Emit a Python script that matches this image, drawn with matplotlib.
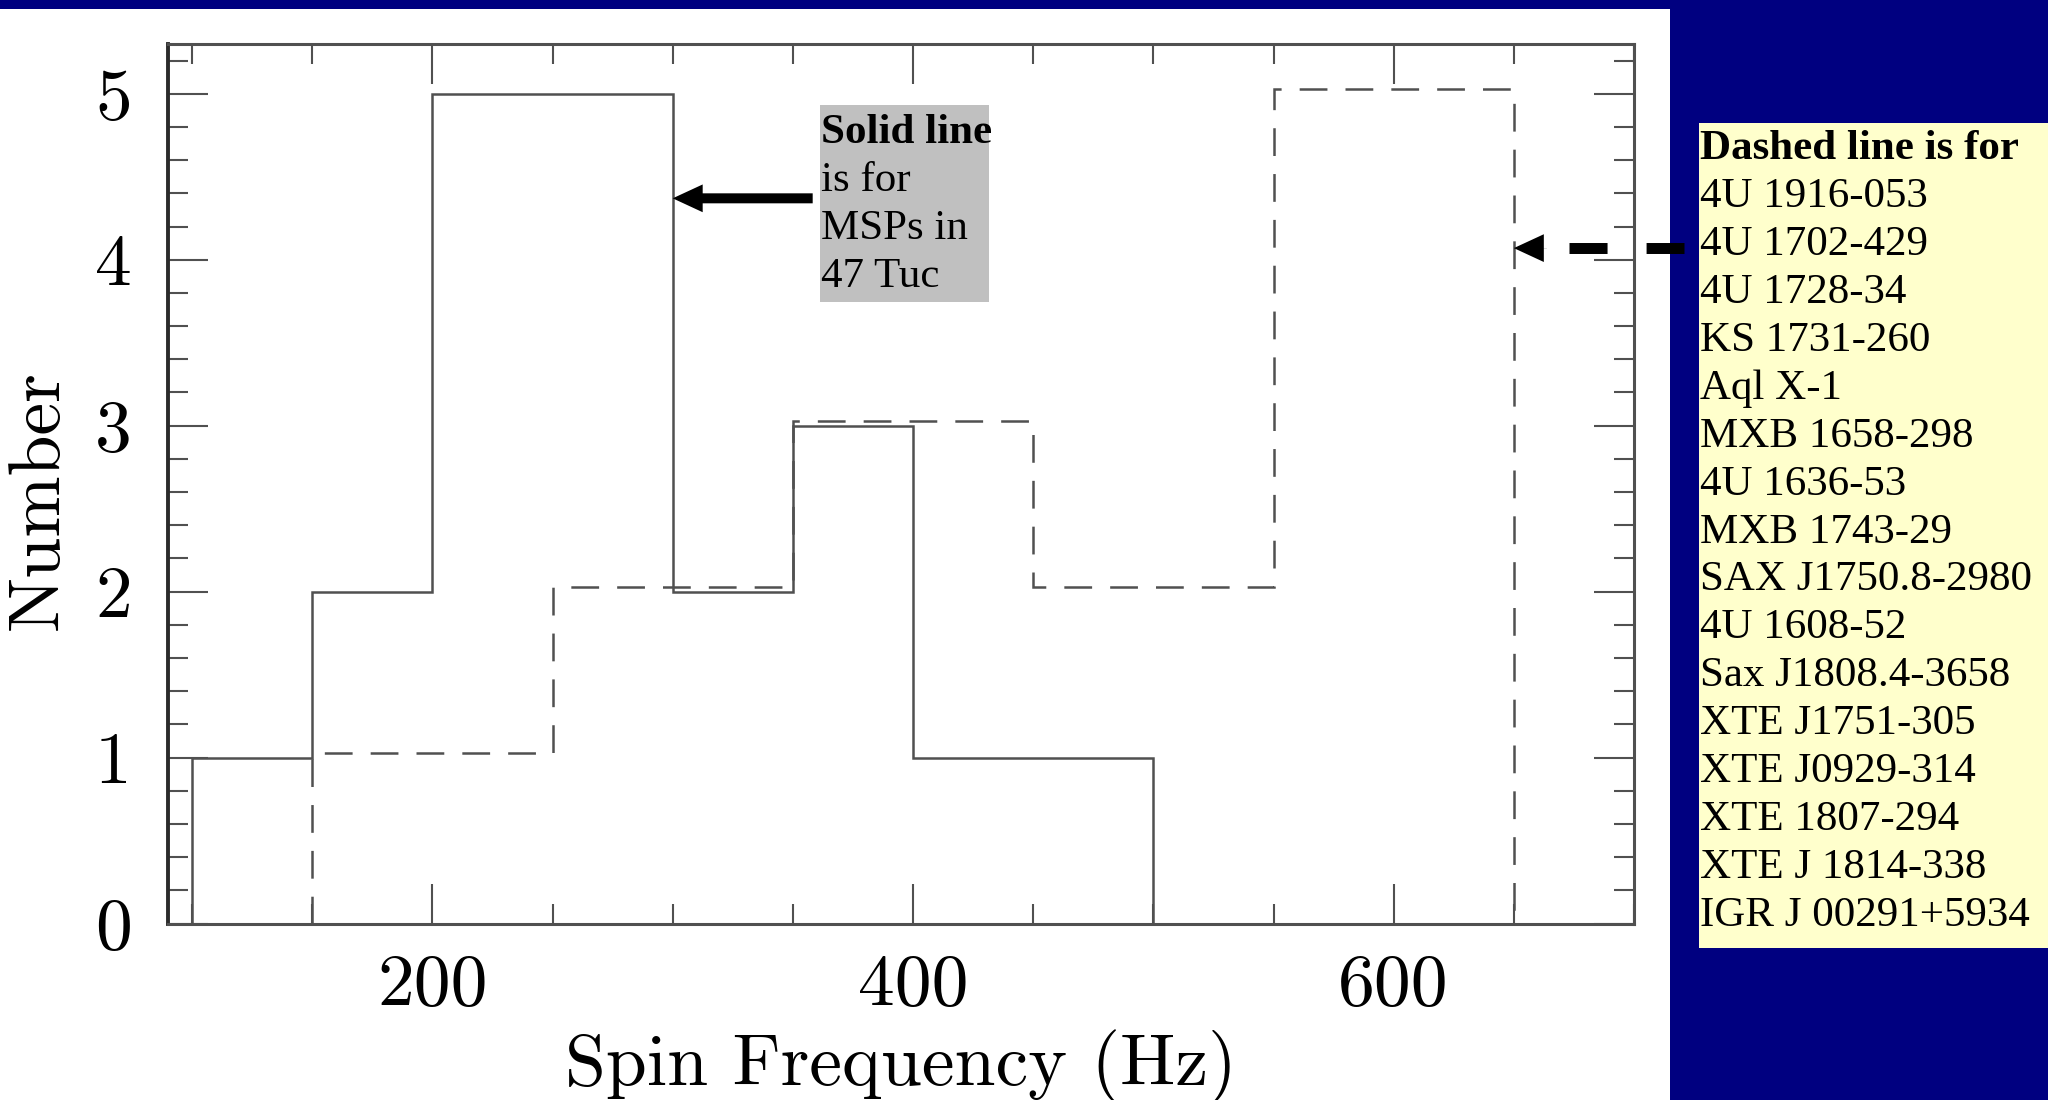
import numpy as np
import matplotlib.pyplot as plt
from matplotlib.patches import Rectangle
from matplotlib.lines import Line2D
from matplotlib.ticker import MultipleLocator

plt.rcParams['lines.scale_dashes'] = False

# Spin frequency histograms, 50 Hz bins
# solid: MSPs in 47 Tuc
msp_edges = [100, 150, 200, 250, 300, 350, 400, 450, 500]
msp_counts = [1, 2, 5, 5, 2, 3, 1, 1]
# dashed: burst / accreting sources
lmxb_edges = [150, 200, 250, 300, 350, 400, 450, 500, 550, 600, 650]
lmxb_counts = [1, 1, 2, 2, 3, 3, 2, 2, 5, 5]

x_ticks = [200, 400, 600]
x_ticklabels = ['200', '400', '600']
y_ticks = [0, 1, 2, 3, 4, 5]
y_ticklabels = ['0', '1', '2', '3', '4', '5']

solid_note = ['Solid line', 'is for', 'MSPs in', '47 Tuc']
dashed_header = 'Dashed line is for'
lmxb_names = ['4U 1916-053', '4U 1702-429', '4U 1728-34', 'KS 1731-260',
              'Aql X-1', 'MXB 1658-298', '4U 1636-53', 'MXB 1743-29',
              'SAX J1750.8-2980', '4U 1608-52', 'Sax J1808.4-3658',
              'XTE J1751-305', 'XTE J0929-314', 'XTE 1807-294',
              'XTE J 1814-338', 'IGR J 00291+5934']

W, H = 2048, 1100
navy = '#000080'
line_gray = '#505050'
serif = 'Liberation Serif'
axis_font = 53


def fx(x):
    return x / W


def fy(y):
    return 1 - y / H


fig = plt.figure(figsize=(W / 100, H / 100), dpi=100, facecolor=navy)

# white slide panel
fig.add_artist(Rectangle((0, 0), fx(1670), fy(9), transform=fig.transFigure,
                         facecolor='white', edgecolor='none', zorder=-10))

ax_l, ax_r, ax_t, ax_b = 168, 1634, 44, 923.5
ax = fig.add_axes([fx(ax_l), fy(ax_b), (ax_r - ax_l) / W, (ax_b - ax_t) / H])

ax.stairs(msp_counts, msp_edges, baseline=0, color=line_gray, lw=1.8)
dash_lift = 0.03  # dashed curve drawn slightly above so it stays visible
ax.stairs(np.array(lmxb_counts) + dash_lift, lmxb_edges, baseline=0,
          color=line_gray, lw=1.8, linestyle=(0, (20, 13)))

ax.set_xlim(90, 700)
ax.set_ylim(0, 5.3)
ax.set_xticks(x_ticks, labels=x_ticklabels)
ax.xaxis.set_minor_locator(MultipleLocator(50))
ax.set_yticks(y_ticks, labels=y_ticklabels)
ax.yaxis.set_minor_locator(MultipleLocator(0.2))
ax.tick_params(which='both', direction='in', top=True, right=True,
               color=line_gray, width=1.5, labelsize=axis_font,
               labelfontfamily='cmr10')
ax.tick_params(which='major', length=29)
ax.tick_params(which='minor', length=14.5)
ax.tick_params(axis='x', pad=22)
ax.tick_params(axis='y', pad=26)

for s in ax.spines.values():
    s.set_color(line_gray)
    s.set_linewidth(2.2)
ax.spines['left'].set_color('#2b2b2b')
ax.spines['left'].set_linewidth(2.8)

ax.set_xlabel('Spin Frequency (Hz)', fontfamily='cmr10', fontsize=axis_font,
              va='baseline')
ax.xaxis.set_label_coords(0.5, -(1085 - ax_b) / (ax_b - ax_t))
ax.set_ylabel('Number', fontfamily='cmr10', fontsize=axis_font, va='center')
ax.yaxis.set_label_coords((39 - ax_l) / (ax_r - ax_l), (ax_b - 500) / (ax_b - ax_t))

# solid arrow -> 47 Tuc note
ax.annotate('', xy=(300, 4.37), xytext=(140, 0), textcoords='offset pixels',
            arrowprops=dict(arrowstyle='simple,head_length=2.16,head_width=2.0,tail_width=0.72',
                            mutation_scale=10, fc='black', ec='none',
                            shrinkA=0, shrinkB=0))

# dashed arrow -> source list
ax.annotate('', xy=(650, 4.07), xytext=(33, 0), textcoords='offset pixels',
            arrowprops=dict(arrowstyle='simple,head_length=2.16,head_width=2.0,tail_width=0.01',
                            mutation_scale=10, fc='black', ec='none',
                            shrinkA=0, shrinkB=0), annotation_clip=False)
fig.add_artist(Line2D([fx(1569), fx(1684)], [fy(248), fy(248)],
                      transform=fig.transFigure, color='black', lw=7.9,
                      dashes=(27.4, 28.1), dash_capstyle='butt', zorder=5))

# grey note box
fig.add_artist(Rectangle((fx(820), fy(302)), (989 - 820) / W, (302 - 105) / H,
                         transform=fig.transFigure, facecolor='#c0c0c0',
                         edgecolor='none', zorder=3))
for i, line in enumerate(solid_note):
    fig.text(fx(821), fy(143 + 48 * i), line, fontfamily=serif, fontsize=31,
             fontweight='bold' if i == 0 else 'normal', va='baseline', zorder=4)

# yellow list box
fig.add_artist(Rectangle((fx(1699), fy(948)), (W - 1699) / W, (948 - 123) / H,
                         transform=fig.transFigure, facecolor='#ffffcc',
                         edgecolor='none', zorder=3))
fig.text(fx(1700), fy(159), dashed_header, fontfamily=serif, fontsize=31,
         fontweight='bold', va='baseline', zorder=4)
for i, name in enumerate(lmxb_names):
    fig.text(fx(1700), fy(159 + 47.94 * (i + 1)), name, fontfamily=serif,
             fontsize=31, va='baseline', zorder=4)

fig.savefig('out.png', dpi=100, facecolor=navy)
